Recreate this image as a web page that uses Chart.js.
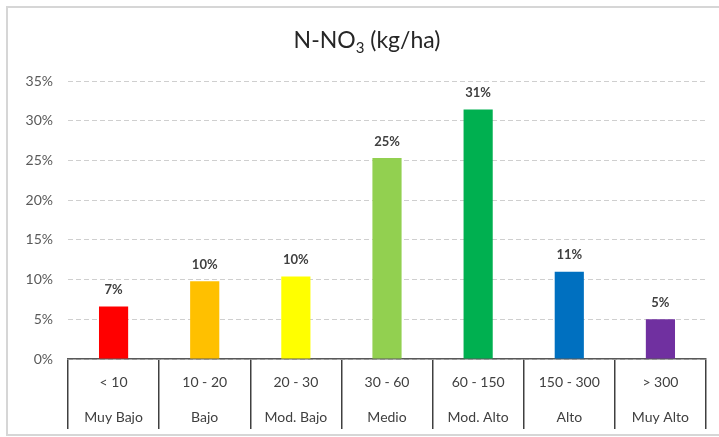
<!DOCTYPE html>
<html>
<head>
<meta charset="utf-8">
<script src="https://cdn.jsdelivr.net/npm/chart.js@4/dist/chart.umd.min.js"></script>
<style>
  html, body { margin: 0; padding: 0; background: #fff; }
  #wrap { position: relative; width: 719px; height: 437px; }
</style>
</head>
<body>
<div id="wrap"><canvas id="c" width="719" height="437"></canvas></div>
<script>
// Nitrate-nitrogen classes (kg/ha) and share of samples in each
const ranges = ['< 10', '10 - 20', '20 - 30', '30 - 60', '60 - 150', '150 - 300', '> 300'];
const classes = ['Muy Bajo', 'Bajo', 'Mod. Bajo', 'Medio', 'Mod. Alto', 'Alto', 'Muy Alto'];
const shares = [6.6, 9.8, 10.4, 25.3, 31.4, 11.0, 5.0];
const barColors = ['#FF0000', '#FFC000', '#FFFF00', '#92D050', '#00B050', '#0070C0', '#7030A0'];
const yTicks = [0, 5, 10, 15, 20, 25, 30, 35];

const FONT = 'Lato, "Open Sans", sans-serif';

// light frame around the whole chart
const framePlugin = {
  id: 'frame',
  beforeDraw(chart) {
    const ctx = chart.ctx;
    ctx.save();
    ctx.strokeStyle = '#d6d6d6';
    ctx.lineWidth = 2;
    ctx.strokeRect(7, 7, 740, 428);
    ctx.restore();
  }
};

// title with subscript
const titlePlugin = {
  id: 'subTitle',
  afterDraw(chart) {
    const ctx = chart.ctx;
    ctx.save();
    ctx.fillStyle = '#262626';
    ctx.textBaseline = 'alphabetic';
    const big = '23px ' + FONT, small = '15px ' + FONT;
    const parts = [['N-NO', big, 0], ['3', small, 5], [' (kg/ha)', big, 0]];
    let total = 0;
    parts.forEach(p => { ctx.font = p[1]; total += ctx.measureText(p[0]).width; });
    let x = 367 - total / 2;
    const base = 48;
    parts.forEach(p => {
      ctx.font = p[1];
      ctx.fillText(p[0], x, base + p[2]);
      x += ctx.measureText(p[0]).width;
    });
    ctx.restore();
  }
};

// percentage above each bar
const valueLabels = {
  id: 'valueLabels',
  afterDatasetsDraw(chart) {
    const ctx = chart.ctx;
    const meta = chart.getDatasetMeta(0);
    ctx.save();
    ctx.font = 'bold 13px ' + FONT;
    ctx.fillStyle = '#404040';
    ctx.textAlign = 'center';
    ctx.textBaseline = 'bottom';
    meta.data.forEach((bar, i) => {
      ctx.fillText(Math.round(shares[i]) + '%', bar.x, bar.y - 10);
    });
    ctx.restore();
  }
};

new Chart(document.getElementById('c'), {
  type: 'bar',
  data: {
    labels: ranges.map((r, i) => [r, classes[i]]),
    datasets: [{
      data: shares,
      backgroundColor: barColors,
      borderWidth: 0,
      barPercentage: 0.32,
      categoryPercentage: 1
    }]
  },
  options: {
    responsive: false,
    animation: false,
    layout: { padding: { top: 81, right: 13, bottom: 0, left: 0 } },
    plugins: {
      legend: { display: false },
      title: { display: false },
      tooltip: { enabled: false }
    },
    scales: {
      x: {
        grid: {
          offset: true,
          drawOnChartArea: false,
          drawTicks: true,
          tickLength: 70,
          color: '#404040',
          lineWidth: 1.5
        },
        border: { display: true, color: '#595959', width: 1.5 },
        ticks: {
          padding: -65,
          color: '#404040',
          font: { family: FONT, size: 14, lineHeight: 2.57 },
          maxRotation: 0,
          autoSkip: false
        },
        afterFit(s) { s.height = 78; }
      },
      y: {
        min: 0,
        max: 35,
        afterBuildTicks(s) { s.ticks = yTicks.map(v => ({ value: v })); },
        grid: {
          color: '#cfcfcf',
          lineWidth: 1,
          drawTicks: false
        },
        border: { display: false, dash: [5, 3] },
        ticks: {
          padding: 15,
          color: '#595959',
          font: { family: FONT, size: 14 },
          callback: v => v + '%'
        },
        afterFit(s) { s.width = 68; }
      }
    }
  },
  plugins: [framePlugin, titlePlugin, valueLabels]
});
</script>
</body>
</html>
